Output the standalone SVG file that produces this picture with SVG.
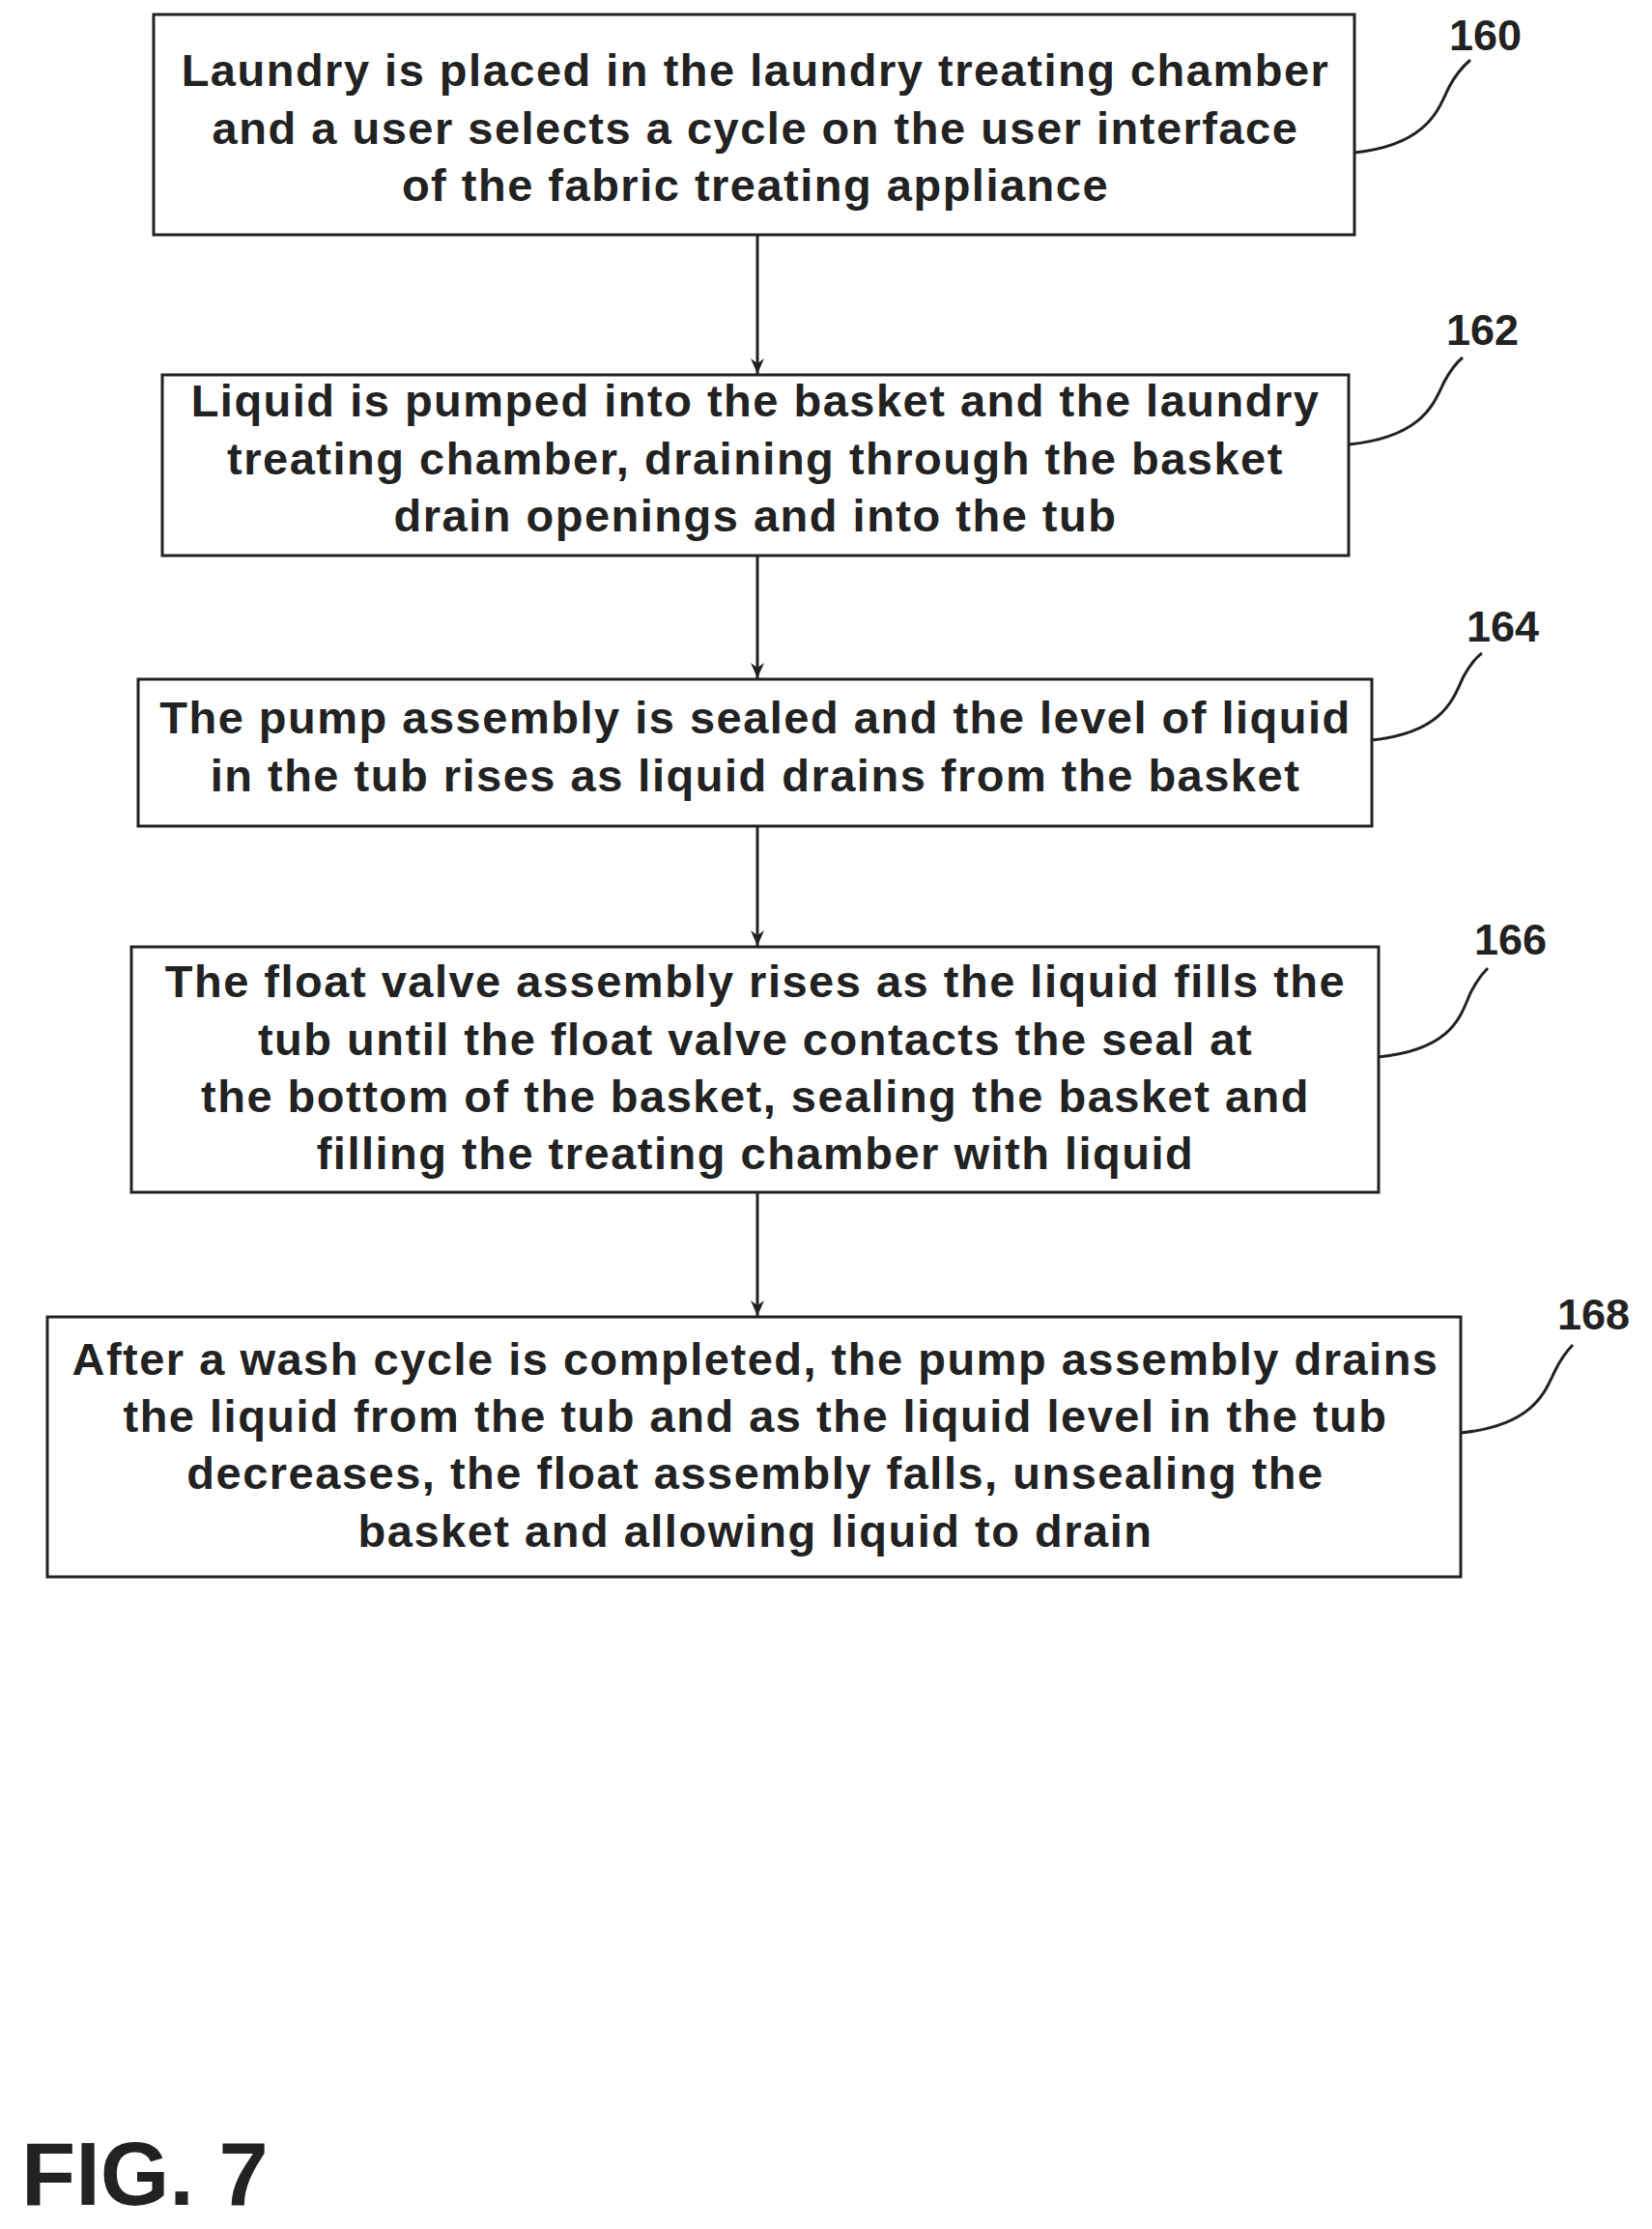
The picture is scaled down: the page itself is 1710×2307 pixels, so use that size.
<svg xmlns="http://www.w3.org/2000/svg" width="1710" height="2307" viewBox="0 0 1710 2307">
<style>
.box{fill:#fff;stroke:#222;stroke-width:3}
.t{font-family:"Liberation Sans",Arial,sans-serif;font-weight:bold;font-size:47px;letter-spacing:1.5px;fill:#222;text-anchor:middle}
.lbl{font-family:"Liberation Sans",Arial,sans-serif;font-weight:bold;font-size:45px;fill:#222}
.c{fill:none;stroke:#222;stroke-width:3}
</style>
<defs><marker id="ah" markerWidth="16" markerHeight="14" refX="16" refY="7" orient="auto" markerUnits="userSpaceOnUse" viewBox="0 0 16 14"><path d="M0,0 L16,7 L0,14 L5,7 Z" fill="#222"/></marker></defs>
<rect width="1710" height="2307" fill="#fff"/>
<g id="n160"><rect class="box" x="159" y="15" width="1243" height="228"/>
<text class="t" x="782" y="89">Laundry is placed in the laundry treating chamber</text>
<text class="t" x="782" y="149">and a user selects a cycle on the user interface</text>
<text class="t" x="782" y="208">of the fabric treating appliance</text>
<text class="lbl" x="1500" y="52">160</text></g>
<g id="n162"><rect class="box" x="168" y="388" width="1228" height="187"/>
<text class="t" x="782" y="431">Liquid is pumped into the basket and the laundry</text>
<text class="t" x="782" y="491">treating chamber, draining through the basket</text>
<text class="t" x="782" y="550">drain openings and into the tub</text>
<text class="lbl" x="1497" y="357">162</text></g>
<g id="n164"><rect class="box" x="143" y="703" width="1277" height="152"/>
<text class="t" x="782" y="759">The pump assembly is sealed and the level of liquid</text>
<text class="t" x="782" y="819">in the tub rises as liquid drains from the basket</text>
<text class="lbl" x="1518" y="664">164</text></g>
<g id="n166"><rect class="box" x="136" y="980" width="1291" height="254"/>
<text class="t" x="782" y="1032">The float valve assembly rises as the liquid fills the</text>
<text class="t" x="782" y="1092">tub until the float valve contacts the seal at</text>
<text class="t" x="782" y="1151">the bottom of the basket, sealing the basket and</text>
<text class="t" x="782" y="1210">filling the treating chamber with liquid</text>
<text class="lbl" x="1526" y="988">166</text></g>
<g id="n168"><rect class="box" x="49" y="1363" width="1463" height="269"/>
<text class="t" x="782" y="1423">After a wash cycle is completed, the pump assembly drains</text>
<text class="t" x="782" y="1482">the liquid from the tub and as the liquid level in the tub</text>
<text class="t" x="782" y="1541">decreases, the float assembly falls, unsealing the</text>
<text class="t" x="782" y="1601">basket and allowing liquid to drain</text>
<text class="lbl" x="1612" y="1376">168</text></g>
<g id="connectors">
<path class="c" d="M784 243 V387" marker-end="url(#ah)"/>
<path class="c" d="M784 575 V702" marker-end="url(#ah)"/>
<path class="c" d="M784 855 V979" marker-end="url(#ah)"/>
<path class="c" d="M784 1234 V1362" marker-end="url(#ah)"/>
<path class="c" d="M1402 158 C1480 150 1490 110 1500 90 C1508 75 1515 68 1522 62"/>
<path class="c" d="M1396 460 C1475 452 1485 415 1495 395 C1502 382 1508 375 1514 370"/>
<path class="c" d="M1420 766 C1497 758 1505 720 1515 700 C1522 688 1528 680 1534 676"/>
<path class="c" d="M1427 1094 C1505 1086 1512 1050 1522 1028 C1528 1016 1534 1008 1540 1002"/>
<path class="c" d="M1512 1483 C1590 1475 1600 1438 1610 1418 C1616 1406 1622 1398 1628 1392"/>
</g>
<text x="22" y="2282" style="font-family:'Liberation Sans',Arial,sans-serif;font-weight:bold;font-size:92px;fill:#222">FIG. 7</text>
</svg>
